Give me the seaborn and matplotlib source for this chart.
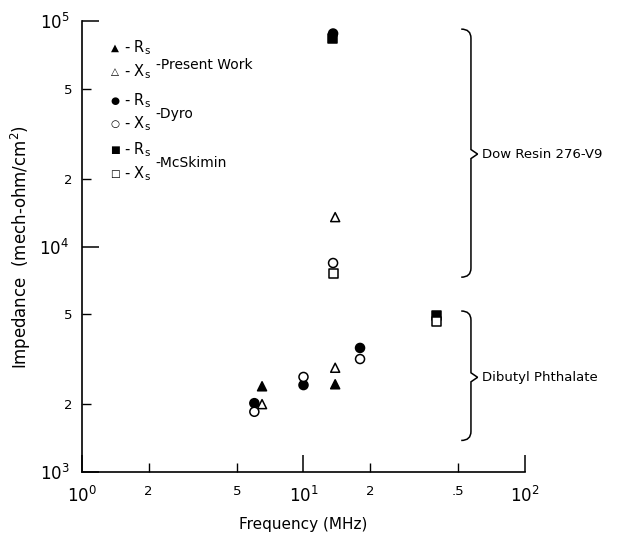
import matplotlib
matplotlib.use("Agg")
import matplotlib.pyplot as plt
from matplotlib.path import Path
from matplotlib.patches import PathPatch
from matplotlib.ticker import FixedLocator, FixedFormatter
import seaborn as sns
import pandas as pd

# ---- data ----
sources = ["Present Work", "Dyro", "McSkimin"]

pw_rs_freq = [6.5, 13.9]
pw_rs_imp = [2400, 2450]
pw_xs_freq = [6.5, 13.9, 13.9]
pw_xs_imp = [2000, 2900, 13500]

dyro_rs_freq = [6.0, 10.0, 18.0, 13.6]
dyro_rs_imp = [2020, 2430, 3550, 88000]
dyro_xs_freq = [6.0, 10.0, 18.0, 13.6]
dyro_xs_imp = [1850, 2640, 3170, 8450]

mcs_rs_freq = [40.0, 13.5]
mcs_rs_imp = [4920, 84000]
mcs_xs_freq = [40.0, 13.6]
mcs_xs_imp = [4630, 7630]

x_major = [1, 10, 100]
x_major_labels = ["$\\mathregular{10^0}$", "$\\mathregular{10^1}$", "$\\mathregular{10^2}$"]
x_minor = [2, 5, 20, 50]
x_minor_labels = ["2", "5", "2", ".5"]
y_major = [1e3, 1e4, 1e5]
y_major_labels = ["$\\mathregular{10^3}$", "$\\mathregular{10^4}$", "$\\mathregular{10^5}$"]
y_minor = [2e3, 5e3, 2e4, 5e4]
y_minor_labels = ["2", "5", "2", "5"]

rows = []
def add(src, comp, fr, im):
    for f, v in zip(fr, im):
        rows.append({"freq": f, "imp": v, "source": src, "component": comp})

add("Present Work", "Rs", pw_rs_freq, pw_rs_imp)
add("Present Work", "Xs", pw_xs_freq, pw_xs_imp)
add("Dyro", "Rs", dyro_rs_freq, dyro_rs_imp)
add("Dyro", "Xs", dyro_xs_freq, dyro_xs_imp)
add("McSkimin", "Rs", mcs_rs_freq, mcs_rs_imp)
add("McSkimin", "Xs", mcs_xs_freq, mcs_xs_imp)
df = pd.DataFrame(rows)

sns.set_style("ticks")
plt.rcParams["font.family"] = ["DejaVu Sans"]
plt.rcParams["mathtext.fontset"] = "dejavusans"
plt.rcParams["text.color"] = "black"
plt.rcParams["axes.labelcolor"] = "black"

fig = plt.figure(figsize=(6.33, 5.33), dpi=100)
ax = fig.add_axes([0.1295, 0.1144, 0.6999, 0.8462])

sns.scatterplot(data=df, x="freq", y="imp", hue="component", style="source",
                palette={"Rs": "black", "Xs": "white"},
                markers={"Present Work": "^", "Dyro": "o", "McSkimin": "s"},
                hue_order=["Rs", "Xs"], style_order=sources,
                s=42, edgecolor="black", linewidth=1.1, legend=False, ax=ax,
                zorder=3, clip_on=False)

ax.set_xscale("log")
ax.set_yscale("log")
ax.set_xlim(1, 100)
ax.set_ylim(1e3, 1e5)

ax.xaxis.set_major_locator(FixedLocator(x_major))
ax.xaxis.set_major_formatter(FixedFormatter(x_major_labels))
ax.xaxis.set_minor_locator(FixedLocator(x_minor))
ax.xaxis.set_minor_formatter(FixedFormatter(x_minor_labels))
ax.yaxis.set_major_locator(FixedLocator(y_major))
ax.yaxis.set_major_formatter(FixedFormatter(y_major_labels))
ax.yaxis.set_minor_locator(FixedLocator(y_minor))
ax.yaxis.set_minor_formatter(FixedFormatter(y_minor_labels))

ax.tick_params(which="major", direction="in", length=12, width=1.1, labelsize=12,
               color="black", labelcolor="black")
ax.tick_params(which="minor", direction="in", length=6.5, width=1.0, labelsize=9.5,
               color="black", labelcolor="black")
ax.tick_params(axis="x", which="major", pad=10)
ax.tick_params(axis="x", which="minor", pad=9)
ax.tick_params(axis="y", which="major", pad=9)
ax.tick_params(axis="y", which="minor", pad=7)

for side in ["top", "right"]:
    ax.spines[side].set_visible(False)
for side in ["left", "bottom"]:
    ax.spines[side].set_linewidth(1.2)
    ax.spines[side].set_color("black")

ax.set_xlabel("Frequency (MHz)", fontsize=11, labelpad=8)
ax.set_ylabel("Impedance  (mech-ohm/cm$^2$)", fontsize=12, labelpad=5)

# ---- legend drawn as text ----
leg_rows = [
    ("\u25B2", "R", 0.940), ("\u25B3", "X", 0.887),
    ("\u25CF", "R", 0.8226), ("\u25CB", "X", 0.7716),
    ("\u25A0", "R", 0.714), ("\u25A1", "X", 0.661),
]
for glyph, letter, yy in leg_rows:
    ax.text(0.0745, yy, glyph, transform=ax.transAxes, fontsize=7.5,
            ha="center", va="center")
    ax.text(0.094, yy, "- " + letter + "$_\\mathregular{s}$", transform=ax.transAxes,
            fontsize=10.5, ha="left", va="center")
group_labels = [("-Present Work", 0.903), ("-Dyro", 0.793), ("-McSkimin", 0.686)]
for lab, yy in group_labels:
    ax.text(0.166, yy, lab, transform=ax.transAxes, fontsize=10,
            ha="left", va="center")

# ---- braces ----
def brace(ax, x0, ytop, ybot, ymid):
    w = 0.022
    c = 0.02
    t = 0.015
    verts = [
        (x0 - w, ytop), (x0, ytop), (x0, ytop - c),
        (x0, ymid + 0.01),
        (x0 + t, ymid),
        (x0, ymid - 0.01),
        (x0, ybot + c), (x0, ybot), (x0 - w, ybot),
    ]
    codes = [Path.MOVETO, Path.CURVE3, Path.CURVE3,
             Path.LINETO, Path.LINETO, Path.LINETO,
             Path.LINETO, Path.CURVE3, Path.CURVE3]
    ax.add_patch(PathPatch(Path(verts, codes), transform=ax.transAxes,
                           fill=False, lw=1.1, color="black", clip_on=False))

brace(ax, 0.878, 0.982, 0.432, 0.705)
brace(ax, 0.878, 0.357, 0.070, 0.21)
ax.text(0.902, 0.705, "Dow Resin 276-V9", transform=ax.transAxes, fontsize=9.5,
        ha="left", va="center")
ax.text(0.902, 0.21, "Dibutyl Phthalate", transform=ax.transAxes, fontsize=9.5,
        ha="left", va="center")

fig.savefig("out.png", dpi=100)
